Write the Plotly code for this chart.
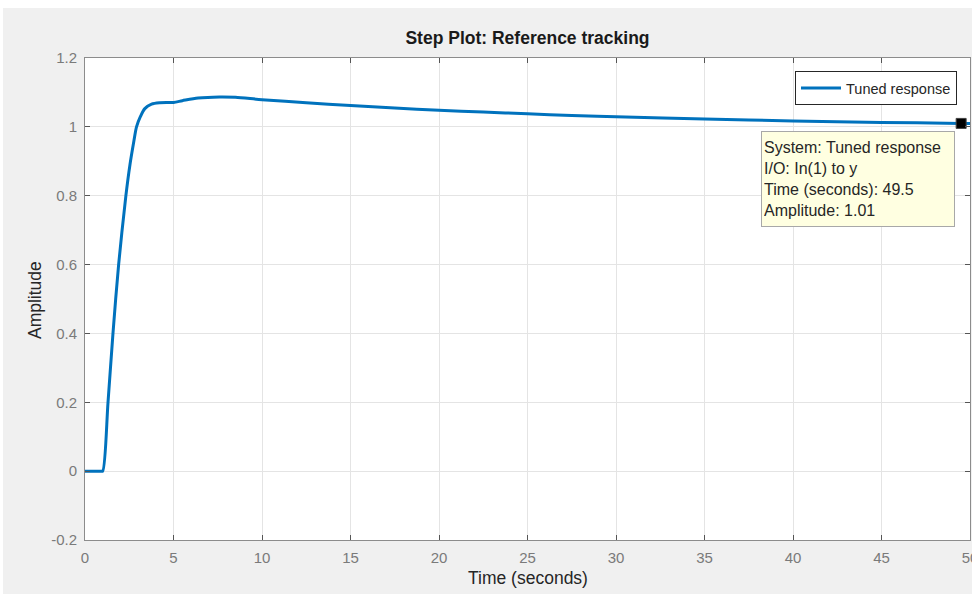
import plotly.graph_objects as go

# ---- data ----
time_s = [0, 0.5, 0.9, 1.0, 1.3, 1.58, 1.9, 2.31, 2.54, 2.76, 2.91, 3.14, 3.38, 3.76,
          4.23, 5.0, 5.5, 6.39, 7.6, 8.5, 10, 12.5, 15, 17.5, 20, 22.5, 25, 27.5,
          30, 35, 40, 45, 49.5, 50]
amplitude = [0, 0, 0, 0, 0.2, 0.4, 0.6, 0.8, 0.89, 0.958, 1.0, 1.031, 1.053, 1.066,
             1.070, 1.071, 1.076, 1.084, 1.087, 1.086, 1.079, 1.070, 1.062, 1.055, 1.048,
             1.043, 1.038, 1.033, 1.029, 1.023, 1.017, 1.013, 1.010, 1.010]

tip_time = 49.5
tip_amp = 1.01

x_ticks = [0, 5, 10, 15, 20, 25, 30, 35, 40, 45, 50]
x_ticklabels = ["0", "5", "10", "15", "20", "25", "30", "35", "40", "45", "50"]
y_ticks = [-0.2, 0, 0.2, 0.4, 0.6, 0.8, 1.0, 1.2]
y_ticklabels = ["-0.2", "0", "0.2", "0.4", "0.6", "0.8", "1", "1.2"]

series_name = "Tuned response"
title_text = "Step Plot: Reference tracking"
x_label = "Time (seconds)"
y_label = "Amplitude"
tip_lines = ["System: Tuned response", "I/O: In(1) to y",
             "Time (seconds): " + str(tip_time), "Amplitude: " + str(tip_amp)]

FONT = "Liberation Sans, Arial, sans-serif"
BLUE = "#0072BD"
GRAY = "#7a7a7a"

fig = go.Figure()
fig.add_trace(go.Scatter(
    x=time_s, y=amplitude, mode="lines", name=series_name,
    line=dict(color=BLUE, width=3, shape="spline", smoothing=0.8),
))
fig.add_trace(go.Scatter(
    x=[tip_time], y=[tip_amp], mode="markers", showlegend=False,
    marker=dict(symbol="square", size=10, color="black", line=dict(color="#444", width=1)),
    cliponaxis=False, hoverinfo="skip",
))

# plot-area geometry (px): left 85, right 970, top 58, bottom 540
L, R, T, B = 85, 970, 58, 540
W, H = R - L, B - T

def px_x(p):
    return (p - L) / W

def px_y(p):
    return (B - p) / H

fig.update_layout(
    width=972, height=594,
    margin=dict(l=L, r=972 - R, t=T, b=594 - B, autoexpand=False),
    paper_bgcolor="#f0f0f0",
    plot_bgcolor="white",
    font=dict(family=FONT, size=15, color=GRAY),
    title=dict(text="<b>" + title_text + "</b>", x=0.5, xref="paper",
               y=1 - 38 / 594, yref="container", yanchor="middle", xanchor="center",
               font=dict(family=FONT, size=17.5, color="#1a1a1a")),
    showlegend=True,
    legend=dict(x=px_x(957), y=px_y(71), xanchor="right", yanchor="top",
                bgcolor="white", bordercolor="#262626", borderwidth=1,
                font=dict(family=FONT, size=14.5, color="#262626"),
                itemwidth=40, tracegroupgap=0),
    xaxis=dict(range=[0, 50], tickvals=x_ticks, ticktext=x_ticklabels,
               showgrid=True, gridcolor="#e4e4e4", gridwidth=1,
               showline=True, linecolor="#8c8c8c", linewidth=1, mirror="ticks",
               ticks="inside", ticklen=5, tickcolor="#555555",
               zeroline=False, ticklabelstandoff=4, ticklabeloverflow="allow",
               automargin=False,
               tickfont=dict(family=FONT, size=15, color=GRAY)),
    yaxis=dict(range=[-0.2, 1.2], tickvals=y_ticks, ticktext=y_ticklabels,
               showgrid=True, gridcolor="#e4e4e4", gridwidth=1,
               showline=True, linecolor="#8c8c8c", linewidth=1, mirror="ticks",
               ticks="inside", ticklen=5, tickcolor="#555555",
               zeroline=False, ticklabelstandoff=4, automargin=False,
               tickfont=dict(family=FONT, size=15, color=GRAY)),
)

# axis labels
fig.add_annotation(text=x_label, xref="paper", yref="paper", x=0.5, y=px_y(578),
                   xanchor="center", yanchor="middle", showarrow=False,
                   font=dict(family=FONT, size=17.5, color="#262626"))
fig.add_annotation(text=y_label, xref="paper", yref="paper", x=px_x(35), y=px_y(300),
                   xanchor="center", yanchor="middle", showarrow=False, textangle=-90,
                   font=dict(family=FONT, size=17.5, color="#262626"))

# data tip box
fig.add_annotation(text="<br>".join(tip_lines), xref="paper", yref="paper",
                   x=px_x(761), y=px_y(131), xanchor="left", yanchor="top",
                   align="left", valign="middle", showarrow=False,
                   width=188, height=90, borderpad=2,
                   bgcolor="#ffffe1", bordercolor="#a8a8a8", borderwidth=1,
                   font=dict(family=FONT, size=16, color="#262626"))

# white margins of the screenshot (top and left strips)
fig.add_shape(type="rect", xref="paper", yref="paper", layer="below",
              x0=px_x(-5), x1=px_x(980), y0=px_y(8), y1=px_y(-5),
              fillcolor="white", line=dict(width=0))
fig.add_shape(type="rect", xref="paper", yref="paper", layer="below",
              x0=px_x(-5), x1=px_x(3), y0=px_y(600), y1=px_y(-5),
              fillcolor="white", line=dict(width=0))

fig.write_html("out.html", config={"displayModeBar": False},
               post_script="document.body.style.margin='0px';document.body.style.overflow='hidden';")
